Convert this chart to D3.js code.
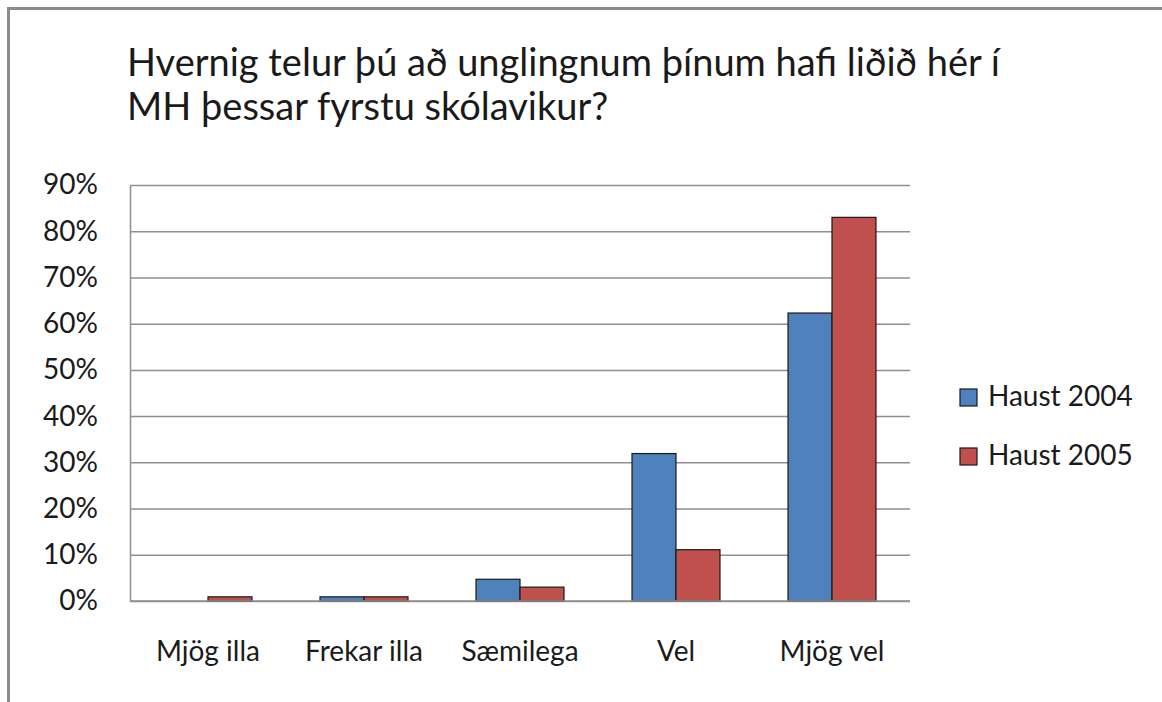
<!DOCTYPE html>
<html>
<head>
<meta charset="utf-8">
<script src="https://cdn.jsdelivr.net/npm/d3@7"></script>
<style>
  body { margin: 0; background: #fff; }
  text { font-family: Lato, "Open Sans", sans-serif; fill: #1a1a1a; }
</style>
</head>
<body>
<svg id="chart"></svg>
<script>
// chart data
let vCategories = ['Mjög illa', 'Frekar illa', 'Sæmilega', 'Vel', 'Mjög vel'];
let vSeries = ['Haust 2004', 'Haust 2005'];
let vHaust2004 = [0, 0.009, 0.047, 0.319, 0.623];
let vHaust2005 = [0.009, 0.009, 0.030, 0.111, 0.830];
let vTicks = [0, 0.1, 0.2, 0.3, 0.4, 0.5, 0.6, 0.7, 0.8, 0.9];
let vTitle = ['Hvernig telur þú að unglingnum þínum hafi liðið hér í',
  'MH þessar fyrstu skólavikur?'];

let vWidth = 1162;
let vHeight = 702;
let vColor = d3.scaleOrdinal().domain(vSeries).range(['#4F81BD', '#C0504D']);

let vPlot = { left: 130, right: 910, top: 185, bottom: 601 };

let svg = d3.select('#chart')
  .attr('width', vWidth)
  .attr('height', vHeight)

// outer chart frame (runs off the right and bottom edges)
svg.append('rect')
  .attr('x', 8.5)
  .attr('y', 8.5)
  .attr('width', vWidth + 20)
  .attr('height', vHeight + 20)
  .style('fill', 'none')
  .style('stroke', '#8c8c8c')
  .style('stroke-width', 3)

// title
svg.append('text')
  .attr('x', 127)
  .attr('y', 76)
  .style('font-size', '38px')
  .selectAll('tspan')
  .data(vTitle)
  .enter()
  .append('tspan')
  .attr('x', 127)
  .attr('dy', (d, i) => i === 0 ? 0 : 44)
  .text((d) => d)

let x0 = d3.scaleBand()
  .domain(vCategories)
  .range([vPlot.left, vPlot.right])
  .paddingInner(0.436)
  .paddingOuter(0.218)

let x1 = d3.scaleBand()
  .domain(vSeries)
  .range([0, x0.bandwidth()])

let y = d3.scaleLinear()
  .domain([0, 0.9])
  .range([vPlot.bottom, vPlot.top])

// gridlines
let yGrid = d3.axisLeft(y)
  .tickValues(vTicks)
  .tickSize(-(vPlot.right - vPlot.left))
  .tickFormat('')

svg.append('g')
  .attr('transform', `translate(${vPlot.left}, 0)`)
  .call(yGrid)
  .call((g) => g.select('.domain').remove())
  .selectAll('line')
  .style('stroke', '#8f8f8f')
  .style('stroke-width', 1.5)

// y axis labels
let yAxis = d3.axisLeft(y)
  .tickValues(vTicks)
  .tickSize(0)
  .tickPadding(32)
  .tickFormat(d3.format('.0%'))

svg.append('g')
  .attr('transform', `translate(${vPlot.left}, 0)`)
  .call(yAxis)
  .call((g) => g.select('.domain')
    .style('stroke', '#8f8f8f')
    .style('stroke-width', 1.5))
  .selectAll('text')
  .style('font-size', '28px')
  .style('fill', '#1a1a1a')

// bars
let vRows = vCategories.map((c, i) => {
  return { category: c, values: [vHaust2004[i], vHaust2005[i]] }
})

let vGroups = svg.selectAll('g.group')
  .data(vRows)
  .enter()
  .append('g')
  .attr('class', 'group')
  .attr('transform', (d) => `translate(${x0(d.category)}, 0)`)

vGroups.selectAll('rect')
  .data((d) => d.values.map((v, i) => ({ series: vSeries[i], value: v })))
  .enter()
  .filter((d) => d.value > 0)
  .append('rect')
  .attr('x', (d) => x1(d.series))
  .attr('y', (d) => y(d.value))
  .attr('width', x1.bandwidth())
  .attr('height', (d) => y(0) - y(d.value))
  .style('fill', (d) => vColor(d.series))
  .style('stroke', '#1a1a1a')
  .style('stroke-width', 1.2)

// x axis baseline
svg.append('g')
  .attr('transform', `translate(0, ${vPlot.bottom})`)
  .call(d3.axisBottom(x0).tickSize(0).tickPadding(40))
  .call((g) => g.select('.domain')
    .attr('d', `M${vPlot.left},0H${vPlot.right}`)
    .style('stroke', '#8f8f8f')
    .style('stroke-width', 1.5))
  .selectAll('text')
  .style('font-size', '28px')
  .style('fill', '#1a1a1a')

// legend
let vLegend = svg.selectAll('g.legend')
  .data(vSeries)
  .enter()
  .append('g')
  .attr('class', 'legend')
  .attr('transform', (d, i) => `translate(960, ${389 + i * 59})`)

vLegend.append('rect')
  .attr('width', 17)
  .attr('height', 17)
  .style('fill', (d) => vColor(d))
  .style('stroke', '#1a1a1a')
  .style('stroke-width', 1.2)

vLegend.append('text')
  .attr('x', 28)
  .attr('y', 17)
  .style('font-size', '28px')
  .text((d) => d)
</script>
</body>
</html>
